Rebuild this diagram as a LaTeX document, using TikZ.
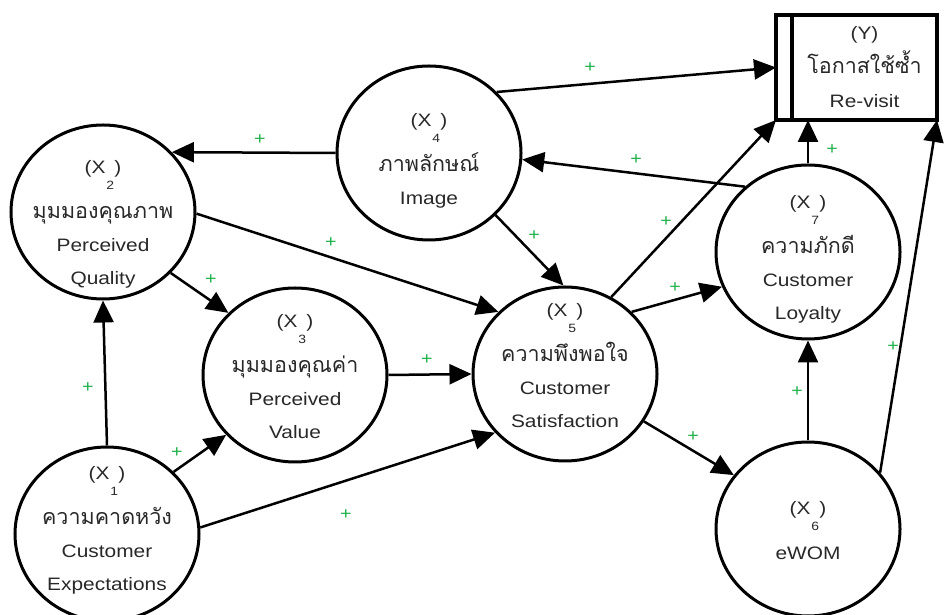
\documentclass[tikz,border=0pt]{standalone}
\usepackage{fontspec}
\setmainfont{Liberation Sans}[FakeStretch=1.16]
\newfontfamily\thaifont[Script=Thai]{Loma}
\usetikzlibrary{arrows.meta,shapes.geometric}
\definecolor{plusgreen}{RGB}{34,177,76}
\definecolor{txtgray}{RGB}{40,40,40}
\newcommand\xid[1]{(X\rlap{\kern1pt\raisebox{-16pt}[0pt][0pt]{\fontsize{12}{12}\selectfont #1}}\hspace{0.5em})}
\newcommand\thai[1]{{\thaifont\fontsize{21.5}{33}\selectfont #1}}
\begin{document}
\begin{tikzpicture}[x=1pt,y=1pt,
  var/.style={ellipse, draw, line width=3pt, minimum width=184pt, minimum height=174pt,
    inner sep=0pt},
  vtxt/.style={inner sep=0pt, align=center, text=txtgray, font=\fontsize{18}{33}\selectfont},
  ybox/.style={rectangle, draw, line width=4pt, outer sep=0pt, minimum width=145pt,
    minimum height=105pt, inner sep=0pt, align=center, text=txtgray,
    font=\fontsize{18}{34}\selectfont},
  arr/.style={line width=2.5pt, -{Triangle[length=22pt,width=20pt]}},
  plus/.style={text=plusgreen, font=\fontsize{17}{17}\selectfont, inner sep=0pt}]
\useasboundingbox (0,0) rectangle (944,615);

% variables
\node[var] (X1) at (107,81) {};
\node[var] (X2) at (103,403) {};
\node[var] (X3) at (295,240) {};
\node[var] (X4) at (429,462) {};
\node[var] (X5) at (565,241) {};
\node[var] (X6) at (808,86) {};
\node[var] (X7) at (808,363) {};

\node[vtxt] (t1) at ([yshift=4pt]X1.center) {\xid{1}\\[12pt]\thai{ความคาดหวัง}\\Customer\\Expectations};
\node[vtxt] (t2) at ([yshift=-12pt]X2.center) {\xid{2}\\[12pt]\thai{มุมมองคุณภาพ}\\Perceived\\Quality};
\node[vtxt] (t3) at ([yshift=-2pt]X3.center) {\xid{3}\\[12pt]\thai{มุมมองคุณค่า}\\Perceived\\Value};
\node[vtxt] (t4) at ([yshift=-8pt]X4.center) {\xid{4}\\[12pt]\thai{ภาพลักษณ์}\\Image};
\node[vtxt] (t5) at ([yshift=8pt]X5.center) {\xid{5}\\[12pt]\thai{ความพึงพอใจ}\\Customer\\Satisfaction};
\node[vtxt] (t6) at ([yshift=-2pt]X6.center) {\xid{6}\\[12pt]eWOM};
\node[vtxt] (t7) at ([yshift=-7.5pt]X7.center) {\xid{7}\\[12pt]\thai{ความภักดี}\\Customer\\Loyalty};

% outcome box
\node[ybox] (Y) at (864.5,547.5) {(Y)\\\thai{โอกาสใช้ซ้ำ}\\Re-visit};
\draw[line width=4pt, line join=miter] (Y.north west) -- ++(-16,0) -- ++(0,-105) -- (Y.south west);
\coordinate (Yw) at ([xshift=-16pt]Y.west);
\coordinate (Ysw) at ([xshift=-16pt]Y.south west);

% connectors
\draw[arr] (X4.42.7) -- (Yw);
\draw[arr] (X5.59) -- (Ysw);
\draw[arr] (X7.90) -- (X7.90 |- Y.south);
\draw[arr] (X6.38.8) -- (Y.south east);
\draw[arr] (X7.134.6) -- (X4.-4);
\draw[arr] (X4.180) -- (X2.41);
\draw[arr] (X4.-43) -- (X5.91);
\draw[arr] (X2.-1) -- (X5.137);
\draw[arr] (X2.-42) -- (X3.137);
\draw[arr] (X1.90) -- (X2.-90);
\draw[arr] (X1.43.6) -- (X3.221);
\draw[arr] (X1.4) -- (X5.220.5);
\draw[arr] (X3.0) -- (X5.180);
\draw[arr] (X5.43.6) -- (X7.202);
\draw[arr] (X5.-31.6) -- (X6.144.5);
\draw[arr] (X6.90) -- (X7.-90);

% signs
\node[plus] (p1) at (590,547) {+};
\node[plus] (p2) at (666,393) {+};
\node[plus] (p3) at (832,465) {+};
\node[plus] (p4) at (893,268) {+};
\node[plus] (p5) at (636,455) {+};
\node[plus] (p6) at (260,475) {+};
\node[plus] (p7) at (534,379) {+};
\node[plus] (p8) at (331,372) {+};
\node[plus] (p9) at (211,335) {+};
\node[plus] (p10) at (88,227) {+};
\node[plus] (p11) at (177,162) {+};
\node[plus] (p12) at (346,100) {+};
\node[plus] (p13) at (427,255) {+};
\node[plus] (p14) at (675,327) {+};
\node[plus] (p15) at (693,178) {+};
\node[plus] (p16) at (797,223) {+};
\end{tikzpicture}
\end{document}
